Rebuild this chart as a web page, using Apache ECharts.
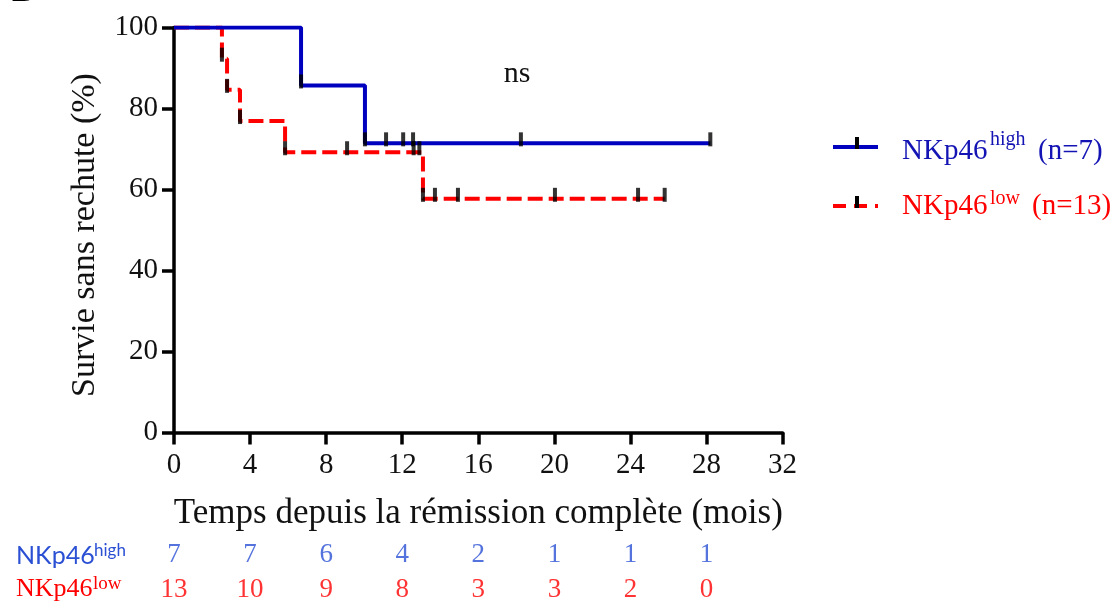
<!DOCTYPE html>
<html>
<head>
<meta charset="utf-8">
<script src="https://cdn.jsdelivr.net/npm/echarts@6/dist/echarts.min.js"></script>
<style>
  html, body { margin: 0; padding: 0; background: #fff; }
  #chart { width: 1116px; height: 608px; }
</style>
</head>
<body>
<div id="chart"></div>
<script>
// Kaplan-Meier steps (months, %)
const highTimes = [0, 6.68, 10.04, 28.2];
const highSurv = [100, 85.7, 71.4, 71.4];
const lowTimes = [0, 2.52, 2.79, 3.47, 5.84, 13.09, 25.8];
const lowSurv = [100, 92.3, 84.6, 76.9, 69.2, 57.7, 57.7];

// tick marks (censored + the ones Prism puts at each event)
const highTickTimes = [6.68, 10.04, 11.15, 12.05, 12.57, 18.24, 28.2];
const highTickSurv = [85.7, 71.4, 71.4, 71.4, 71.4, 71.4, 71.4];
const lowTickTimes = [2.52, 2.79, 3.47, 5.84, 9.1, 12.6, 12.9, 13.09, 13.72, 14.93, 20.03, 24.4, 25.8];
const lowTickSurv = [92.3, 84.6, 76.9, 69.2, 69.2, 69.2, 69.2, 57.7, 57.7, 57.7, 57.7, 57.7, 57.7];

// numbers at risk
const riskTimes = [0, 4, 8, 12, 16, 20, 24, 28];
const riskHigh = [7, 7, 6, 4, 2, 1, 1, 1];
const riskLow = [13, 10, 9, 8, 3, 3, 2, 0];

const SERIF = '"Liberation Serif", "Times New Roman", serif';
const SANS = 'Lato, "Liberation Sans", sans-serif';
const BLUE = '#0000bf';
const BLUE_TXT = '#1414b4';
const BLUE_RISK = '#2b50d4';
const RED = '#ff0000';

const zip = (xs, ys) => xs.map((x, i) => [x, ys[i]]);

// text helper, y is the baseline
const txt = (x, base, text, size, color, family, extra) => ({
  type: 'text',
  x: x,
  y: base - 0.34 * size,
  silent: true,
  style: Object.assign({
    text: text,
    fontSize: size,
    fontFamily: family,
    fill: color,
    verticalAlign: 'middle'
  }, extra || {})
});

const chart = echarts.init(document.getElementById('chart'));

const axisBlack = { color: '#000', width: 3.5 };

const option = {
  animation: false,
  grid: [
    { left: 174, right: 333.4, top: 27.5, bottom: 175.5 },
    { left: 174, right: 333.4, top: 538, height: 69 }
  ],
  xAxis: [
    {
      type: 'value',
      min: 0,
      max: 32,
      interval: 4,
      name: 'Temps depuis la rémission complète (mois)',
      nameLocation: 'middle',
      nameGap: 64,
      nameTextStyle: { fontFamily: SERIF, fontSize: 35, color: '#111' },
      axisLine: { show: true, onZero: false, lineStyle: axisBlack },
      axisTick: { show: true, length: 12, lineStyle: axisBlack },
      axisLabel: { fontFamily: SERIF, fontSize: 29, color: '#111', margin: 18, showMinLabel: true, showMaxLabel: true },
      splitLine: { show: false }
    },
    { gridIndex: 1, type: 'value', min: 0, max: 32, show: false }
  ],
  yAxis: [
    {
      type: 'value',
      min: 0,
      max: 100,
      interval: 20,
      name: 'Survie sans rechute (%)',
      nameLocation: 'middle',
      nameGap: 72,
      nameTextStyle: { fontFamily: SERIF, fontSize: 34, color: '#111', padding: [0, 10, 0, 0] },
      axisLine: { show: true, onZero: false, lineStyle: axisBlack },
      axisTick: { show: true, length: 12, lineStyle: axisBlack },
      axisLabel: { fontFamily: SERIF, fontSize: 29, color: '#111', margin: 16 },
      splitLine: { show: false }
    },
    { gridIndex: 1, type: 'category', data: ['high', 'low'], inverse: true, show: false }
  ],
  series: [
    {
      name: 'NKp46 low',
      type: 'line',
      step: 'end',
      showSymbol: false,
      data: zip(lowTimes, lowSurv),
      lineStyle: { color: RED, width: 4, type: [15, 6] },
      z: 2
    },
    {
      name: 'NKp46 high',
      type: 'line',
      step: 'end',
      showSymbol: false,
      data: zip(highTimes, highSurv),
      lineStyle: { color: BLUE, width: 4 },
      z: 3
    },
    {
      type: 'scatter',
      symbol: 'rect',
      symbolSize: [4, 14],
      symbolOffset: [0, -4],
      data: zip(lowTickTimes, lowTickSurv),
      itemStyle: { color: '#000' },
      z: 4,
      silent: true
    },
    {
      type: 'scatter',
      symbol: 'rect',
      symbolSize: [4, 14],
      symbolOffset: [0, -4],
      data: zip(highTickTimes, highTickSurv),
      itemStyle: { color: '#000' },
      z: 4,
      silent: true
    },
    // at-risk table
    {
      type: 'scatter',
      xAxisIndex: 1,
      yAxisIndex: 1,
      symbolSize: 1,
      itemStyle: { color: 'transparent' },
      data: riskTimes.map((t, i) => [t, 0, riskHigh[i]]),
      label: {
        show: true,
        position: 'inside',
        formatter: p => p.value[2],
        fontFamily: SERIF,
        fontSize: 27,
        color: BLUE_RISK
      },
      silent: true
    },
    {
      type: 'scatter',
      xAxisIndex: 1,
      yAxisIndex: 1,
      symbolSize: 1,
      itemStyle: { color: 'transparent' },
      data: riskTimes.map((t, i) => [t, 1, riskLow[i]]),
      label: {
        show: true,
        position: 'inside',
        formatter: p => p.value[2],
        fontFamily: SERIF,
        fontSize: 27,
        color: RED
      },
      silent: true
    }
  ],
  graphic: [
    txt(12, 4, 'B', 34, '#000', SERIF, { fontWeight: 'bold' }),
    txt(517, 84, 'ns', 30, '#111', SERIF, { align: 'center' }),

    // legend
    { type: 'line', silent: true, shape: { x1: 833, y1: 147, x2: 878, y2: 147 }, style: { stroke: BLUE, lineWidth: 4 } },
    { type: 'rect', silent: true, shape: { x: 855, y: 137, width: 4, height: 12 }, style: { fill: '#000' } },
    txt(902, 161.7, 'NKp46', 29, BLUE_TXT, SERIF),
    txt(990, 146.4, 'high', 20, BLUE_TXT, SERIF),
    txt(1038, 161.7, '(n=7)', 29, BLUE_TXT, SERIF),

    { type: 'line', silent: true, shape: { x1: 833, y1: 206, x2: 878, y2: 206 }, style: { stroke: RED, lineWidth: 4, lineDash: [13, 8] } },
    { type: 'rect', silent: true, shape: { x: 855, y: 196, width: 4, height: 12 }, style: { fill: '#000' } },
    txt(902, 216.3, 'NKp46', 29, RED, SERIF),
    txt(990, 205.4, 'low', 20, RED, SERIF),
    txt(1032, 216.3, '(n=13)', 29, RED, SERIF),

    // row labels of the at-risk table
    txt(16, 564, 'NKp46', 25, BLUE_RISK, SANS),
    txt(94, 556, 'high', 17, BLUE_RISK, SANS),
    txt(16, 598, 'NKp46', 26, RED, SERIF),
    txt(93, 590, 'low', 19, RED, SERIF)
  ]
};

chart.setOption(option);
</script>
</body>
</html>
